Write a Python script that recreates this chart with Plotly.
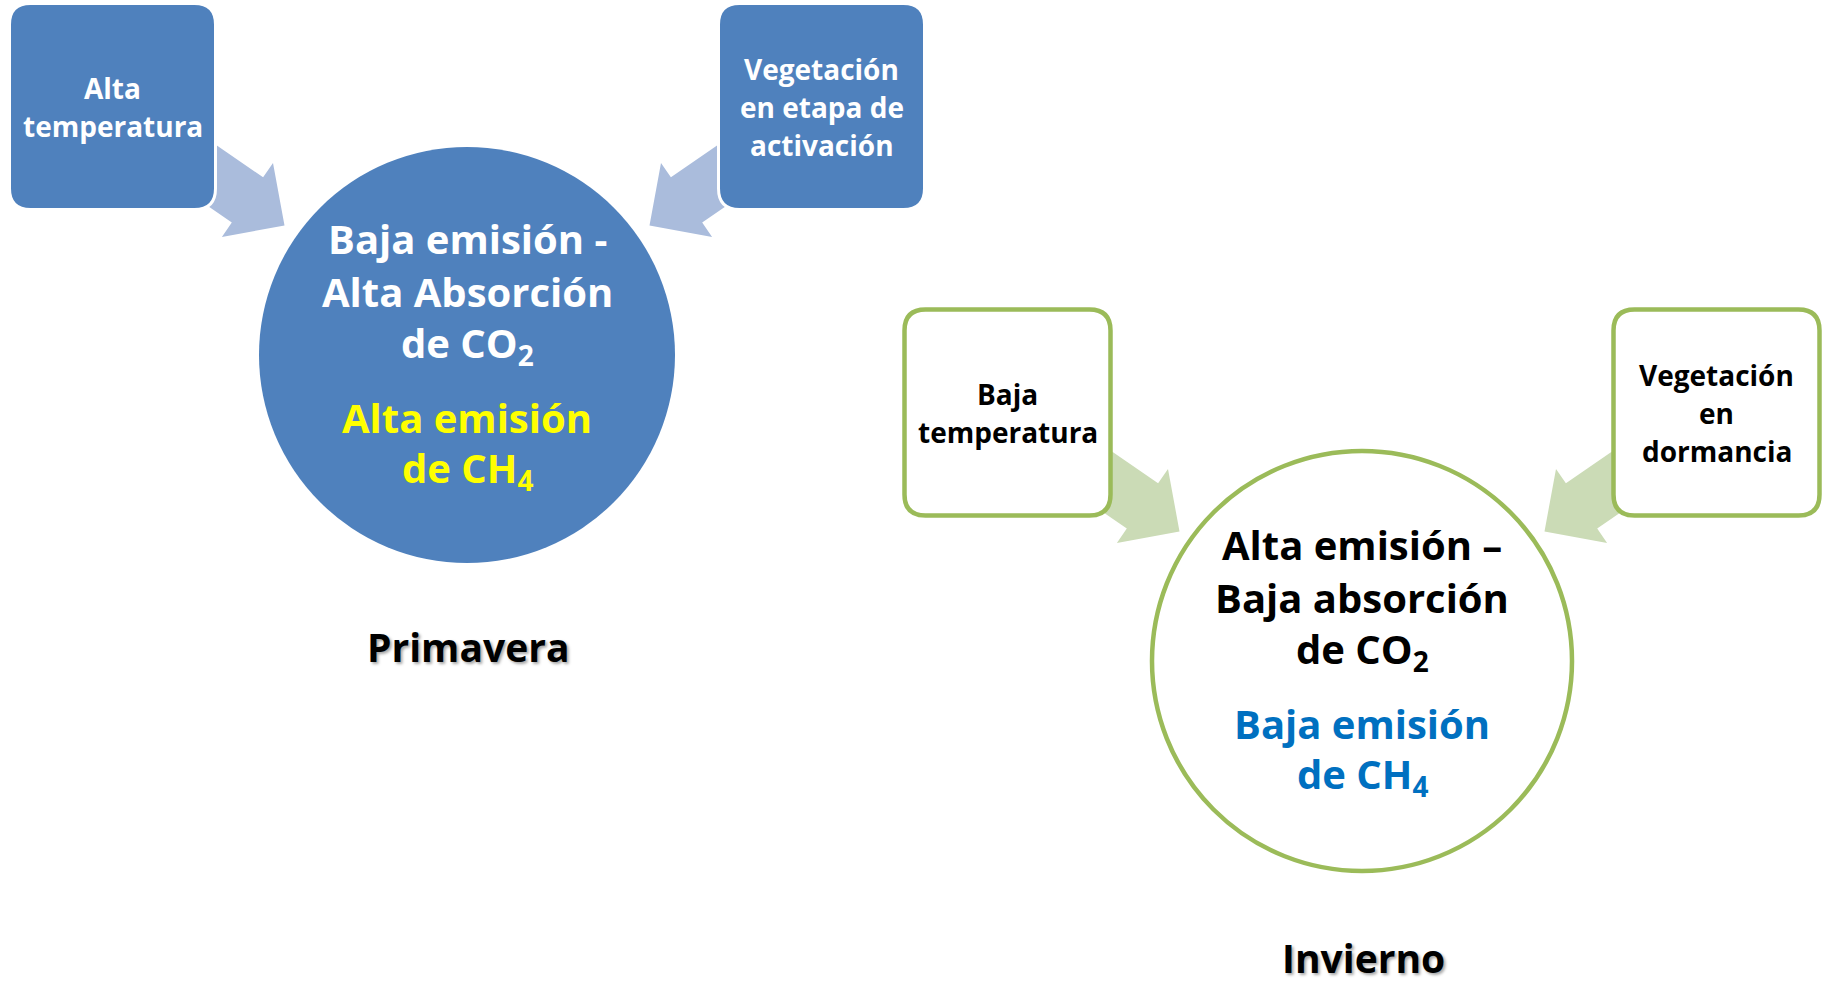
import math
import plotly.graph_objects as go

# ---------------- content ----------------
seasons = ["Primavera", "Invierno"]
box_left_lines = [["Alta", "temperatura"], ["Baja", "temperatura"]]
box_right_lines = [["Vegetación", "en etapa de", "activación"], ["Vegetación", "en", "dormancia"]]
circle_co2_lines = [["Baja emisión -", "Alta Absorción", "de CO<sub>2</sub>"],
                    ["Alta emisión –", "Baja absorción", "de CO<sub>2</sub>"]]
circle_ch4_lines = [["Alta emisión", "de CH<sub>4</sub>"],
                    ["Baja emisión", "de CH<sub>4</sub>"]]

# ---------------- layout / style ----------------
W, H = 1831, 984
centers = [(467, 355), (1362, 661)]          # circle centres of each diagram
label_dy = [291, 296]
FONT = "'Open Sans', 'Noto Sans', sans-serif"
BLUE = "#4F81BD"
GREEN = "#9BBB59"
styles = [
    dict(box_fill=BLUE, box_line="white", box_lw=3, box_text="white",
         circ_fill=BLUE, circ_line=BLUE, circ_lw=0, co2_col="white", ch4_col="#FFFF00",
         arrow="#AABCDC"),
    dict(box_fill="white", box_line=GREEN, box_lw=4.5, box_text="black",
         circ_fill="white", circ_line=GREEN, circ_lw=4.5, co2_col="black", ch4_col="#0070C0",
         arrow="#CBDBB6"),
]
R_CIRC = [208, 210]
BOX_HALF = 103
BOX_DX, BOX_DY = 354.5, -248.5
CORNER = 21
BOX_FS, CIRC_FS, LABEL_FS = 28, 40, 39

fig = go.Figure()
shapes = []
annotations = []


def rounded_rect(x0, y0, x1, y1, r):
    return (f"M {x0+r},{y0} L {x1-r},{y0} Q {x1},{y0} {x1},{y0+r} "
            f"L {x1},{y1-r} Q {x1},{y1} {x1-r},{y1} L {x0+r},{y1} "
            f"Q {x0},{y1} {x0},{y1-r} L {x0},{y0+r} Q {x0},{y0} {x0+r},{y0} Z")


def block_arrow(tip, u, head_len=45, head_w=90, body_w=55, body_len=90):
    n = (-u[1], u[0])
    bx, by = tip[0] - head_len * u[0], tip[1] - head_len * u[1]
    tx, ty = bx - body_len * u[0], by - body_len * u[1]
    pts = [
        (tx + body_w / 2 * n[0], ty + body_w / 2 * n[1]),
        (bx + body_w / 2 * n[0], by + body_w / 2 * n[1]),
        (bx + head_w / 2 * n[0], by + head_w / 2 * n[1]),
        tip,
        (bx - head_w / 2 * n[0], by - head_w / 2 * n[1]),
        (bx - body_w / 2 * n[0], by - body_w / 2 * n[1]),
        (tx - body_w / 2 * n[0], ty - body_w / 2 * n[1]),
    ]
    return "M " + " L ".join(f"{x:.1f},{y:.1f}" for x, y in pts) + " Z"


def text(x, y, s, size, color, shadow=None):
    f = dict(family=FONT, size=size, color=color, weight="bold")
    if shadow:
        f["shadow"] = shadow
    annotations.append(dict(x=x, y=y, xref="x", yref="y", text=s, showarrow=False,
                            xanchor="center", yanchor="middle", font=f))


ang = math.radians(34.6)
for i, (cx, cy) in enumerate(centers):
    st = styles[i]
    # arrows (under the boxes)
    for s in (-1, 1):
        tip = (cx + s * 182.5, cy - 129.5)
        u = (-s * math.cos(ang), math.sin(ang))
        shapes.append(dict(type="path", path=block_arrow(tip, u), xref="x", yref="y",
                           fillcolor=st["arrow"], line=dict(width=0), layer="above"))
    # circle
    r = R_CIRC[i]
    shapes.append(dict(type="circle", xref="x", yref="y", x0=cx - r, x1=cx + r, y0=cy - r, y1=cy + r,
                       fillcolor=st["circ_fill"], line=dict(color=st["circ_line"], width=st["circ_lw"]),
                       layer="above"))
    # boxes
    for s, lines in ((-1, box_left_lines[i]), (1, box_right_lines[i])):
        bx, by = cx + s * BOX_DX, cy + BOX_DY
        shapes.append(dict(type="path", xref="x", yref="y",
                           path=rounded_rect(bx - BOX_HALF, by - BOX_HALF, bx + BOX_HALF, by + BOX_HALF, CORNER),
                           fillcolor=st["box_fill"], line=dict(color=st["box_line"], width=st["box_lw"]),
                           layer="above"))
        sp = 38
        n = len(lines)
        for k, ln in enumerate(lines):
            text(bx, by + (k - (n - 1) / 2) * sp, ln, BOX_FS, st["box_text"])
    # circle text
    for k, ln in enumerate(circle_co2_lines[i]):
        text(cx, cy - 117 + k * 53, ln, CIRC_FS, st["co2_col"])
    for k, ln in enumerate(circle_ch4_lines[i]):
        text(cx, cy + 62 + k * 52, ln, CIRC_FS, st["ch4_col"])
    # season label
    text(cx + 1, cy + label_dy[i], seasons[i], LABEL_FS, "black", shadow="2px 2px 3px rgba(0,0,0,0.35)")

fig.update_layout(
    width=W, height=H, margin=dict(l=0, r=0, t=0, b=0),
    paper_bgcolor="white", plot_bgcolor="white",
    xaxis=dict(range=[0, W], visible=False, fixedrange=True),
    yaxis=dict(range=[H, 0], visible=False, fixedrange=True),
    shapes=shapes, annotations=annotations, showlegend=False,
)
fig.write_html("out.html", config={"displayModeBar": False},
               post_script="document.body.style.margin='0px';document.body.style.overflow='hidden';")
